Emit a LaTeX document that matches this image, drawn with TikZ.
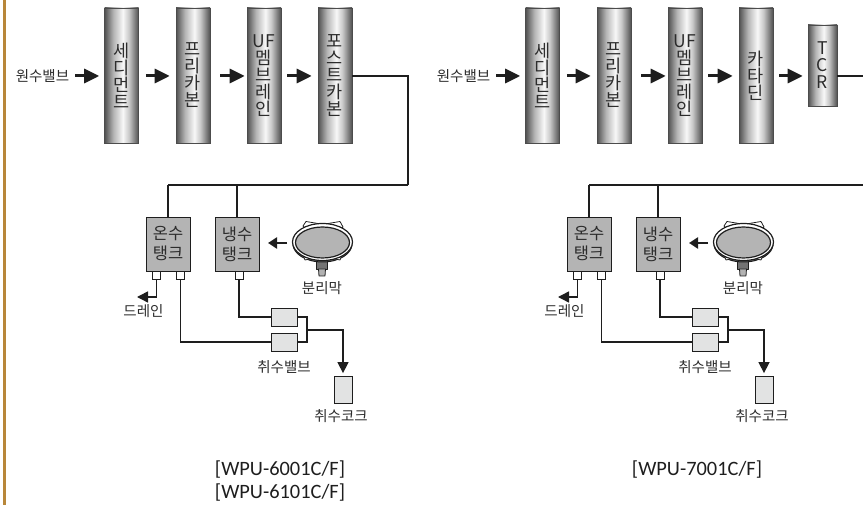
\documentclass[tikz,border=0pt]{standalone}
\usepackage{fontspec}
\setmainfont{Noto Sans CJK KR}
\newfontfamily\latinfont{Carlito}
\usetikzlibrary{arrows.meta,calc}
\definecolor{ink}{HTML}{1E1E1E}
\definecolor{txt}{HTML}{2C2C2C}
\definecolor{edgebar}{HTML}{B8873A}
\definecolor{tankfill}{HTML}{B4B4B4}
\definecolor{valvefill}{HTML}{E2E3E3}
\definecolor{shA}{HTML}{505050}
\definecolor{shB}{HTML}{B4B4B4}
\definecolor{shC}{HTML}{F8F8F8}
\definecolor{shD}{HTML}{C8C8C8}
\pgfdeclarehorizontalshading{barshade}{100bp}{
  color(0bp)=(shA); color(25bp)=(shA); color(38bp)=(shB); color(52bp)=(shC);
  color(61bp)=(shD); color(75bp)=(shA); color(100bp)=(shA)}
\tikzset{
  x=1pt,y=-1pt,
  barbox/.style={draw=black!70,line width=.6pt,shading=barshade,minimum width=34pt,minimum height=135pt,inner sep=0pt,
    align=center,text=txt,font=\fontsize{17.5}{17}\selectfont},
  tcrbox/.style={barbox,minimum width=29pt,minimum height=81pt},
  flow/.style={draw=ink,line width=3pt,-{Triangle[length=15pt,width=14pt]}},
  pipe/.style={draw=ink,line width=1.5pt},
  pipearrow/.style={pipe,-{Triangle[length=11pt,width=11pt]}},
  tank/.style={draw=ink,line width=.8pt,fill=tankfill,minimum width=44pt,minimum height=54pt,inner sep=0pt,
    align=center,text=txt,font=\fontsize{16.5}{20}\selectfont},
  fitting/.style={draw=ink,line width=.9pt,fill=white,minimum size=8pt,inner sep=0pt},
  valve/.style={draw=ink,line width=.8pt,fill=valvefill,minimum width=26pt,minimum height=18pt,inner sep=0pt},
  faucet/.style={valve,minimum width=18pt,minimum height=27pt},
  lab/.style={inner sep=0pt,text=txt,font=\fontsize{14.5}{16}\selectfont},
  model/.style={inner sep=0pt,text=ink,font=\latinfont\fontsize{20.4}{23}\selectfont}
}
\newcommand{\lowerpart}{%
  \node[tank] (hot) at (168,244) {온수\\탱크};
  \node[tank] (cold) at (237,244) {냉수\\탱크};
  \node[fitting] (f1) at (156.5,275.5) {};
  \node[fitting] (f2) at (180.5,275.5) {};
  \node[fitting] (f3) at (239,275.5) {};
  \node[valve] (v1) at (284,317) {};
  \node[valve] (v2) at (284,342) {};
  \node[faucet] (tap) at (343,390) {};
  \node[lab] (drainl) at (143.5,311) {드레인};
  \node[lab] (valvel) at (284,367) {취수밸브};
  \node[lab] (tapl) at (341,416.5) {취수코크};
  \node[lab] (meml) at (322,288.5) {분리막};
  \coordinate (drainend) at (137,297);
  \coordinate (ja) at (307,317);
  \coordinate (jb) at (307,342);
  \coordinate (jc) at (307,330);
  % pipes
  \draw[pipe] (hot.north) -- (hot.north |- mainend);
  \draw[pipe] (cold.north) -- (cold.north |- mainend);
  \draw[pipe] (mainend) -- (hot.north |- mainend);
  \draw[pipearrow] (f1.south) |- (drainend);
  \draw[pipe] (f2.south) |- (v2.west);
  \draw[pipe] (f3.south) |- (v1.west);
  \draw[pipe] (v1.east) -- (ja) -- (jb) -- (v2.east);
  \draw[pipearrow] (jc) -| ($(tap.north)+(0,-3)$);
  % membrane
  \begin{scope}[line join=round]
    \draw[ink,line width=.8pt,fill=black!55] (316.5,258) rectangle (327.5,269);
    \draw[ink,line width=.8pt,fill=black!30] (318.5,269) -- (325.5,269) -- (325,276) -- (319,276) -- cycle;
    \draw[ink,line width=1pt,fill=black!55] (322.5,244) ellipse (29.5pt and 18pt);
    \draw[ink,line width=.8pt,fill=white] (303,255) -- (305,260) -- (312,258.5) -- (333,258.5) -- (340,260) -- (342,255) -- cycle;
    \draw[ink,line width=.8pt,fill=white] (303,226) -- (306,221.5) -- (318,223.5) -- (328,223.5) -- (340,221.5) -- (343,227) -- (338,232) -- (308,232) -- cycle;
    \draw[ink,line width=1.2pt,fill=white] (322.5,242) ellipse (30pt and 18.5pt);
    \draw[ink,line width=1.2pt,fill=tankfill] (322.5,242.5) ellipse (27pt and 15.5pt);
  \end{scope}
  \coordinate (memout) at (287,243);
  \coordinate (memin) at (268,243);
  \draw[draw=ink,line width=2.2pt,-{Triangle[length=9pt,width=11pt]}] (memout) -- (memin);
}
\newcommand{\bars}{%
  \node[lab] (src) at (42.5,76) {원수밸브};
  \node[barbox] (b1) at (121.5,75.5) {세\\디\\먼\\트};
  \node[barbox] (b2) at (193,75.5) {프\\리\\카\\본};
  \node[barbox] (b3) at (264,75.5) {UF\\멤\\브\\레\\인};
  \draw[flow,shorten <=6pt,shorten >=5pt] (src.east |- 0,76) -- (b1.west |- 0,76);
  \draw[flow,shorten <=7pt,shorten >=6pt] (b1.east |- 0,76) -- (b2.west |- 0,76);
  \draw[flow,shorten <=10pt,shorten >=2pt] (b2.east |- 0,76) -- (b3.west |- 0,76);
}
\begin{document}
\begin{tikzpicture}
\useasboundingbox (0,0) rectangle (863,505);
\fill[edgebar] (3,0) rectangle (6,505);
% left panel
\begin{scope}[name prefix=L-]
  \bars
  \node[barbox] (b4) at (335,75.5) {포\\스\\트\\카\\본};
  \draw[flow,shorten <=6pt,shorten >=6pt] (b3.east |- 0,76) -- (b4.west |- 0,76);
  \coordinate (mainend) at (408,185);
  \draw[pipe] (b4.east |- 0,76) -| (mainend);
  \lowerpart
  \node[model] (m1) at (280,470) {[WPU-6001C/F]};
  \node[model] (m2) at (280,493) {[WPU-6101C/F]};
\end{scope}
% right panel
\begin{scope}[name prefix=R-,shift={(421,0)}]
  \bars
  \node[barbox] (b4) at (335,75.5) {카\\타\\딘};
  \node[tcrbox] (b5) at (401.5,65.5) {\fontsize{17.5}{19.5}\selectfont T\\C\\R};
  \draw[flow,shorten <=6pt,shorten >=6pt] (b3.east |- 0,76) -- (b4.west |- 0,76);
  \draw[flow,shorten <=6pt,shorten >=5pt] (b4.east |- 0,76) -- (b5.west |- 0,76);
  \coordinate (tcrend) at (442,76);
  \coordinate (mainend) at (442,185);
  \draw[pipe] (b5.east |- tcrend) -- (tcrend);
  \lowerpart
  \node[model] (m1) at (276,470) {[WPU-7001C/F]};
\end{scope}
\end{tikzpicture}
\end{document}
